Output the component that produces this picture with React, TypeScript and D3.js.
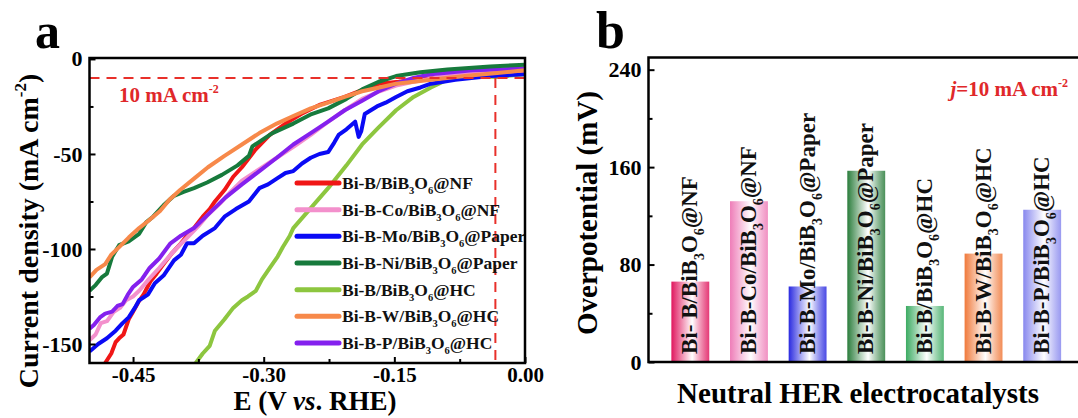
import React, { useEffect, useRef } from "react";
import * as d3 from "d3";

// LSV curves, [E (V vs RHE), j (mA cm-2)]
const curveBiB_NF = [[-0.482,-160],[-0.475,-155],[-0.470,-149],[-0.466,-147],[-0.461,-145],[-0.455,-137],[-0.450,-133],[-0.444,-128],[-0.438,-124],[-0.430,-117],[-0.423,-113],[-0.415,-108],[-0.405,-102],[-0.395,-97],[-0.388,-93],[-0.380,-89],[-0.370,-83],[-0.362,-79],[-0.356,-75],[-0.345,-69],[-0.335,-62],[-0.325,-57],[-0.310,-48],[-0.293,-40],[-0.275,-34],[-0.257,-29],[-0.235,-24],[-0.207,-20],[-0.185,-16],[-0.167,-13],[-0.145,-12],[-0.128,-11],[-0.09,-9.5],[-0.05,-8.5],[0,-7]];
const curveCo_NF = [[-0.5,-148],[-0.493,-145],[-0.487,-139],[-0.480,-138],[-0.472,-133],[-0.465,-131],[-0.458,-127],[-0.450,-125],[-0.443,-122],[-0.432,-116],[-0.420,-110],[-0.403,-101],[-0.390,-95],[-0.375,-88],[-0.364,-82],[-0.350,-76],[-0.338,-70],[-0.325,-64],[-0.305,-58],[-0.285,-52],[-0.265,-46],[-0.246,-40],[-0.226,-33],[-0.207,-27],[-0.187,-21],[-0.167,-17],[-0.148,-14],[-0.128,-12],[-0.09,-9],[-0.05,-7.5],[0,-6]];
const curveMo_Paper = [[-0.5,-154],[-0.49,-150],[-0.48,-147],[-0.47,-143],[-0.462,-139],[-0.455,-136],[-0.448,-131],[-0.443,-127],[-0.433,-124],[-0.425,-118],[-0.415,-114],[-0.403,-106],[-0.395,-103],[-0.388,-97],[-0.380,-97],[-0.370,-93],[-0.356,-89],[-0.345,-83],[-0.332,-79],[-0.317,-75],[-0.305,-68],[-0.295,-66],[-0.285,-63],[-0.275,-60],[-0.266,-59],[-0.256,-55],[-0.246,-52],[-0.236,-50],[-0.226,-49],[-0.219,-44],[-0.214,-40],[-0.205,-37],[-0.195,-33],[-0.191,-41],[-0.188,-38],[-0.184,-29],[-0.170,-25],[-0.160,-23],[-0.148,-20],[-0.135,-17],[-0.120,-15],[-0.108,-13],[-0.080,-11],[-0.04,-9],[0,-8]];
const curveNi_Paper = [[-0.5,-122],[-0.493,-119],[-0.486,-115],[-0.48,-113],[-0.474,-104],[-0.466,-98],[-0.455,-96],[-0.443,-92],[-0.435,-86],[-0.427,-83],[-0.415,-77],[-0.403,-72],[-0.392,-70],[-0.380,-68],[-0.365,-65],[-0.348,-61],[-0.330,-56],[-0.317,-51],[-0.313,-46],[-0.290,-39],[-0.266,-34],[-0.245,-29],[-0.226,-26],[-0.205,-21],[-0.187,-16],[-0.168,-12],[-0.148,-9],[-0.120,-7],[-0.089,-5.5],[-0.04,-4],[0,-3]];
const curveBiB_HC = [[-0.378,-160],[-0.370,-155],[-0.362,-151],[-0.356,-143],[-0.345,-137],[-0.335,-131],[-0.325,-127],[-0.318,-125],[-0.309,-122],[-0.302,-116],[-0.293,-110],[-0.284,-104],[-0.278,-99],[-0.270,-93],[-0.266,-89],[-0.245,-78],[-0.226,-68],[-0.205,-56],[-0.187,-45],[-0.168,-36],[-0.148,-27],[-0.128,-20],[-0.108,-15],[-0.090,-11],[-0.077,-9],[-0.06,-9],[-0.033,-9.5],[0,-8]];
const curveW_HC = [[-0.5,-115],[-0.492,-111],[-0.482,-108],[-0.475,-103],[-0.466,-99],[-0.455,-94],[-0.443,-89],[-0.432,-85],[-0.419,-80],[-0.408,-74],[-0.396,-69],[-0.380,-63],[-0.364,-57],[-0.345,-51],[-0.325,-45],[-0.305,-39],[-0.285,-34],[-0.266,-30],[-0.246,-26],[-0.226,-23],[-0.207,-20],[-0.187,-17],[-0.167,-15],[-0.148,-13],[-0.128,-12],[-0.10,-10.5],[-0.069,-9],[-0.035,-7.5],[0,-6]];
const curveP_HC = [[-0.5,-142],[-0.495,-140],[-0.488,-136],[-0.482,-134],[-0.474,-133],[-0.468,-130],[-0.462,-129],[-0.456,-124],[-0.450,-120],[-0.440,-116],[-0.431,-110],[-0.420,-105],[-0.407,-97],[-0.395,-93],[-0.380,-89],[-0.362,-81],[-0.344,-73],[-0.325,-66],[-0.305,-59],[-0.285,-52],[-0.266,-45],[-0.246,-39],[-0.226,-33],[-0.207,-27],[-0.187,-22],[-0.168,-17],[-0.148,-13],[-0.128,-10],[-0.108,-8],[-0.06,-6],[0,-5]];

const legendNames = ["Bi-B/BiB_3O_6@NF", "Bi-B-Co/BiB_3O_6@NF", "Bi-B-Mo/BiB_3O_6@Paper", "Bi-B-Ni/BiB_3O_6@Paper", "Bi-B/BiB_3O_6@HC", "Bi-B-W/BiB_3O_6@HC", "Bi-B-P/BiB_3O_6@HC"];
const lineColors = ["#f01616", "#f390cc", "#0a0af5", "#177a3c", "#8dc63f", "#f7894a", "#8420ee"];
const curves = [curveBiB_NF, curveCo_NF, curveMo_Paper, curveNi_Paper, curveBiB_HC, curveW_HC, curveP_HC];
const drawOrder = [4, 0, 2, 1, 6, 3, 5];

// overpotential at 10 mA cm-2
const barLabels = ["Bi- B/BiB_3O_6@NF", "Bi-B-Co/BiB_3O_6@NF", "Bi-B-Mo/BiB_3O_6@Paper", "Bi-B-Ni/BiB_3O_6@Paper", "Bi-B/BiB_3O_6@HC", "Bi-B-W/BiB_3O_6@HC", "Bi-B-P/BiB_3O_6@HC"];
const barValues = [66, 132, 62, 157, 46, 89, 125];
const barColors = ["#e0175e", "#ee7db8", "#2a2ae0", "#2b7d3c", "#3cab62", "#f0793a", "#8888ee"];

const xTicksA = [-0.45, -0.3, -0.15, 0];
const xMinorA = [-0.375, -0.225, -0.075];
const yTicksA = [0, -50, -100, -150];
const yMinorA = [-25, -75, -125];
const yTicksB = [0, 80, 160, 240];
const yMinorB = [40, 120, 200];
const refJ = -10;
const refE = -0.034;

const FONT = "'Liberation Serif', 'Times New Roman', serif";

// text with "_3" style subscripts
function richText(text, str, subSize, shift) {
    const parts = str.split(/_(\d)/);
    let down = false;
    parts.forEach((p, i) => {
        if (!p) return;
        const sub = i % 2 === 1;
        const t = text.append("tspan").text(p);
        if (sub) {
            t.attr("font-size", subSize);
            if (!down) { t.attr("dy", shift); down = true; }
        } else if (down) {
            t.attr("dy", -shift); down = false;
        }
    });
}

function styleAxis(g, size) {
    g.attr("font-family", FONT).attr("font-size", size).attr("font-weight", "bold");
    g.select(".domain").remove();
    g.selectAll("line").attr("stroke", "#000").attr("stroke-width", 2);
    g.selectAll("text").attr("fill", "#000");
}

function App() {
    const svgRef = useRef(null);

    useEffect(() => {
        const svg = d3.select(svgRef.current);
        svg.selectAll("*").remove();

        // ---------- panel a ----------
        const ax = d3.scaleLinear().domain([-0.5, 0]).range([89.5, 525]);
        const ay = d3.scaleLinear().domain([-160, 0.5]).range([363, 58]);

        svg.append("defs").append("clipPath").attr("id", "clipA")
            .append("rect")
            .attr("x", ax(-0.5)).attr("y", ay(0.5))
            .attr("width", ax(0) - ax(-0.5)).attr("height", ay(-160) - ay(0.5));

        const line = d3.line().x(d => ax(d[0])).y(d => ay(d[1]));
        const curveG = svg.append("g").attr("clip-path", "url(#clipA)");
        drawOrder.forEach(i => {
            curveG.append("path")
                .attr("d", line(curves[i]))
                .attr("fill", "none")
                .attr("stroke", lineColors[i])
                .attr("stroke-width", 4)
                .attr("stroke-linejoin", "round");
        });

        // 10 mA cm-2 guide lines
        svg.append("line")
            .attr("x1", ax(-0.5)).attr("x2", ax(0))
            .attr("y1", ay(refJ)).attr("y2", ay(refJ))
            .attr("stroke", "#e8302a").attr("stroke-width", 2).attr("stroke-dasharray", "10,7");
        svg.append("line")
            .attr("x1", ax(refE)).attr("x2", ax(refE))
            .attr("y1", ay(refJ)).attr("y2", ay(-160))
            .attr("stroke", "#e8302a").attr("stroke-width", 2).attr("stroke-dasharray", "10,7");

        const note = svg.append("text")
            .attr("x", 119).attr("y", 102)
            .attr("font-family", FONT).attr("font-size", 21).attr("font-weight", "bold")
            .attr("fill", "#e0282a");
        note.append("tspan").text("10 mA cm");
        note.append("tspan").attr("font-size", 12).attr("dy", -9).text("-2");

        // legend
        legendNames.forEach((name, i) => {
            const yy = 183 + i * 26.67;
            svg.append("line")
                .attr("x1", 297).attr("x2", 339).attr("y1", yy).attr("y2", yy)
                .attr("stroke", lineColors[i]).attr("stroke-width", 5).attr("stroke-linecap", "round");
            const t = svg.append("text")
                .attr("x", 342).attr("y", yy + 6)
                .attr("font-family", FONT).attr("font-size", 17.5).attr("font-weight", "bold")
                .attr("fill", "#111");
            richText(t, name, 10.5, 5);
        });

        // axes a
        const xa = svg.append("g").attr("transform", `translate(0,${ay(-160)})`)
            .call(d3.axisBottom(ax).tickValues(xTicksA).tickFormat(d => d.toFixed(2))
                .tickSizeInner(-6).tickSizeOuter(0).tickPadding(4));
        styleAxis(xa, 21);
        const xam = svg.append("g").attr("transform", `translate(0,${ay(-160)})`)
            .call(d3.axisBottom(ax).tickValues(xMinorA).tickFormat(() => "")
                .tickSizeInner(-4).tickSizeOuter(0));
        styleAxis(xam, 22);
        const ya = svg.append("g").attr("transform", `translate(${ax(-0.5)},0)`)
            .call(d3.axisLeft(ay).tickValues(yTicksA).tickFormat(d => String(d))
                .tickSizeInner(-6).tickSizeOuter(0).tickPadding(7));
        styleAxis(ya, 22);
        const yam = svg.append("g").attr("transform", `translate(${ax(-0.5)},0)`)
            .call(d3.axisLeft(ay).tickValues(yMinorA).tickFormat(() => "")
                .tickSizeInner(-4).tickSizeOuter(0));
        styleAxis(yam, 22);

        svg.append("rect")
            .attr("x", ax(-0.5)).attr("y", ay(0.5))
            .attr("width", ax(0) - ax(-0.5)).attr("height", ay(-160) - ay(0.5))
            .attr("fill", "none").attr("stroke", "#000").attr("stroke-width", 2.5);

        const xLabA = svg.append("text")
            .attr("x", 315).attr("y", 410).attr("text-anchor", "middle")
            .attr("font-family", FONT).attr("font-size", 27).attr("font-weight", "bold");
        xLabA.append("tspan").text("E (V ");
        xLabA.append("tspan").attr("font-style", "italic").text("vs");
        xLabA.append("tspan").text(". RHE)");

        const yLabA = svg.append("text")
            .attr("transform", "translate(38,231) rotate(-90)").attr("text-anchor", "middle")
            .attr("font-family", FONT).attr("font-size", 28).attr("font-weight", "bold");
        yLabA.append("tspan").text("Current density (mA cm");
        yLabA.append("tspan").attr("font-size", 17).attr("dy", -12).text("-2");
        yLabA.append("tspan").attr("dy", 12).text(")");

        svg.append("text").attr("x", 35).attr("y", 48)
            .attr("font-family", FONT).attr("font-size", 50).attr("font-weight", "bold").text("a");

        // ---------- panel b ----------
        const bx = d3.scaleBand().domain(barLabels).range([648.5, 1084])
            .paddingInner(0.354).paddingOuter(0.39);
        const by = d3.scaleLinear().domain([0, 250]).range([362, 57.5]);

        const defs = svg.select("defs");
        barColors.forEach((c, i) => {
            const g = defs.append("linearGradient").attr("id", `bar${i}`)
                .attr("x1", 0).attr("x2", 1).attr("y1", 0).attr("y2", 0);
            g.append("stop").attr("offset", "0%").attr("stop-color", c);
            g.append("stop").attr("offset", "55%").attr("stop-color", "#ffffff");
            g.append("stop").attr("offset", "100%").attr("stop-color", c).attr("stop-opacity", 0.85);
        });

        svg.append("g").selectAll("rect")
            .data(barLabels)
            .enter()
            .append("rect")
            .attr("x", d => bx(d))
            .attr("y", (d, i) => by(barValues[i]))
            .attr("width", bx.bandwidth())
            .attr("height", (d, i) => by(0) - by(barValues[i]))
            .attr("fill", (d, i) => `url(#bar${i})`);

        barLabels.forEach(name => {
            const cx = bx(name) + bx.bandwidth() / 2;
            const t = svg.append("text")
                .attr("transform", `translate(${cx + 7},354) rotate(-90)`)
                .attr("font-family", FONT).attr("font-size", 23).attr("font-weight", "bold")
                .attr("fill", "#111");
            richText(t, name, 14, 7);
        });

        const yb = svg.append("g").attr("transform", `translate(648.5,0)`)
            .call(d3.axisLeft(by).tickValues(yTicksB).tickFormat(d => String(d))
                .tickSizeInner(-6).tickSizeOuter(0).tickPadding(7));
        styleAxis(yb, 22);
        const ybm = svg.append("g").attr("transform", `translate(648.5,0)`)
            .call(d3.axisLeft(by).tickValues(yMinorB).tickFormat(() => "")
                .tickSizeInner(-4).tickSizeOuter(0));
        styleAxis(ybm, 22);

        svg.append("rect")
            .attr("x", 648.5).attr("y", by(250))
            .attr("width", 1084 - 648.5).attr("height", by(0) - by(250))
            .attr("fill", "none").attr("stroke", "#000").attr("stroke-width", 2.5);

        const jNote = svg.append("text")
            .attr("x", 1068).attr("y", 96).attr("text-anchor", "end")
            .attr("font-family", FONT).attr("font-size", 21).attr("font-weight", "bold")
            .attr("fill", "#e0282a");
        jNote.append("tspan").attr("font-style", "italic").text("j");
        jNote.append("tspan").text("=10 mA cm");
        jNote.append("tspan").attr("font-size", 12).attr("dy", -9).text("-2");

        svg.append("text")
            .attr("x", 858).attr("y", 403).attr("text-anchor", "middle")
            .attr("font-family", FONT).attr("font-size", 29).attr("font-weight", "bold")
            .text("Neutral HER electrocatalysts");

        svg.append("text")
            .attr("transform", "translate(597,213) rotate(-90)").attr("text-anchor", "middle")
            .attr("font-family", FONT).attr("font-size", 29).attr("font-weight", "bold")
            .text("Overpotential (mV)");

        svg.append("text").attr("x", 596).attr("y", 48)
            .attr("font-family", FONT).attr("font-size", 52).attr("font-weight", "bold").text("b");
    }, []);

    return (
        <svg ref={svgRef} width={1078} height={418}
            style={{ position: "absolute", left: 0, top: 0, background: "#fff" }} />
    );
}

export default App;
